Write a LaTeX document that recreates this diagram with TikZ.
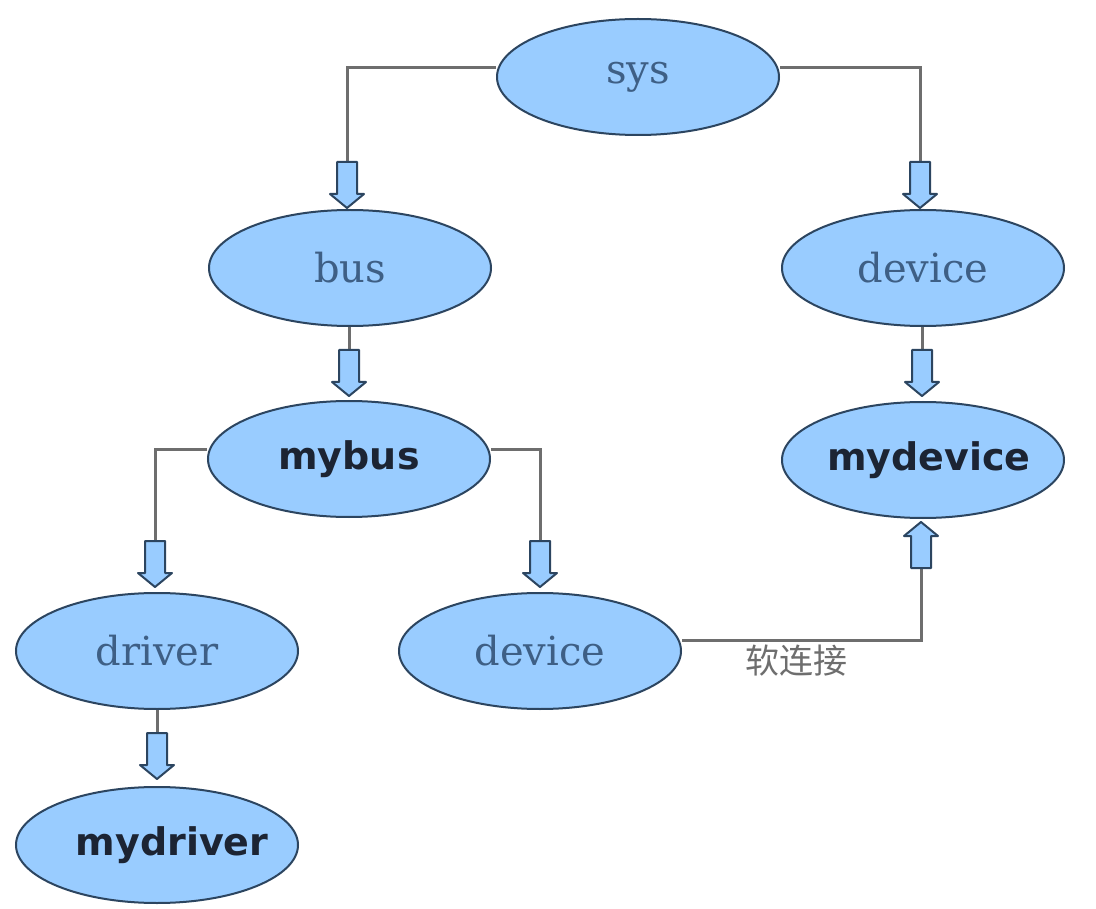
\documentclass[tikz,border=0pt]{standalone}
\usepackage{fontspec}
\setmainfont{DejaVu Serif}
\newfontfamily\boldsans{DejaVu Sans}
\newfontfamily\cjk{Noto Sans CJK SC}
\usetikzlibrary{shapes.geometric}
\definecolor{bubfill}{HTML}{99CCFF}
\definecolor{bubdraw}{HTML}{2C4560}
\definecolor{txtblue}{HTML}{3E5F85}
\definecolor{txtdark}{HTML}{1C2433}
\definecolor{linegray}{HTML}{6E6E6E}
\tikzset{
  bub/.style={ellipse, draw=bubdraw, fill=bubfill, line width=2pt, minimum width=282pt, minimum height=116pt, inner sep=0pt},
  plain/.style={bub, text=txtblue, font=\fontsize{40}{42}\selectfont},
  strong/.style={bub, text=txtdark, font=\boldsans\bfseries\fontsize{38}{40}\selectfont},
  conn/.style={draw=linegray, line width=3pt},
  blk/.pic={\draw[fill=bubfill, draw=bubdraw, line width=2pt, line join=round]
      (-10,0) -- (-10,32) -- (-17,32) -- (0,46) -- (17,32) -- (10,32) -- (10,0) -- cycle;}
}
\begin{document}
\begin{tikzpicture}[x=1pt,y=-1pt]
\useasboundingbox[fill=white] (0,0) rectangle (1096,909);
\node[plain] (sys) at (638,77) {sys};
\node[plain] (bus) at (350,268) {bus};
\node[plain] (devr) at (923,268) {device};
\node[strong] (mybus) at (349,459) {mybus};
\node[strong] (mydev) at (923,460) {\hspace*{12pt}\makebox[0pt]{mydevice}};
\node[plain] (driver) at (157,651) {driver};
\node[plain] (devm) at (540,651) {device};
\node[strong] (mydrv) at (157,845) {\hspace*{30pt}\makebox[0pt]{mydriver}};
% connector start points
\coordinate (a1) at (347,162);
\coordinate (a2) at (920,162);
\coordinate (a3) at (349,350);
\coordinate (a4) at (922,350);
\coordinate (a5) at (155,541);
\coordinate (a6) at (540,541);
\coordinate (a7) at (157,733);
\coordinate (a8) at (921,568);
\draw[conn] ([yshift=9pt]sys.west) -| (a1);
\draw[conn] ([yshift=9pt]sys.east) -| (a2);
\draw[conn] (bus.south -| a3) -- (a3);
\draw[conn] (devr.south -| a4) -- (a4);
\draw[conn] ([yshift=9pt]mybus.west) -| (a5);
\draw[conn] ([yshift=9pt]mybus.east) -| (a6);
\draw[conn] (driver.south -| a7) -- (a7);
\draw[conn] ([yshift=11pt]devm.east) -| (a8);
\pic at (a1) {blk};
\pic at (a2) {blk};
\pic at (a3) {blk};
\pic at (a4) {blk};
\pic at (a5) {blk};
\pic at (a6) {blk};
\pic at (a7) {blk};
\pic[rotate=180] at (a8) {blk};
\node[text=linegray, font=\cjk\fontsize{34}{36}\selectfont] (lbl) at (796,661) {软连接};
\end{tikzpicture}
\end{document}
